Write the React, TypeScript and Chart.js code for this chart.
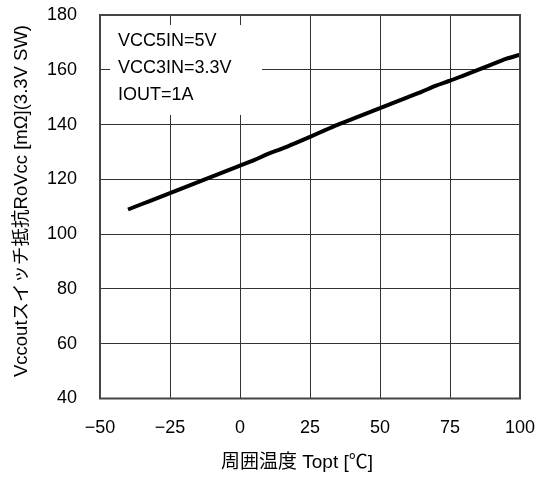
import React, { useEffect, useRef } from "react";
import { Chart, registerables } from "chart.js";

Chart.register(...registerables);

const temperatures = [-40, -35, -30, -25, -20, -15, -10, -5, 0, 5, 10, 15, 20, 25, 30, 35, 40, 45, 50, 55, 60, 65, 70, 75, 80, 85, 90, 95, 100];
const resistance = [109, 111, 113, 115, 117, 119, 121, 123, 125, 127, 129.3, 131.2, 133.3, 135.5, 137.8, 140, 142, 144, 146, 148, 150, 152, 154.2, 156, 158, 160, 162, 164, 165.5];
const conditionLines = ["VCC5IN=5V", "VCC3IN=3.3V", "IOUT=1A"];
const xTitle = "周囲温度 Topt [℃]";
const yTitle = "Vccoutスイッチ抵抗RoVcc [mΩ](3.3V SW)";

const FONT = "'Liberation Sans', 'Noto Sans CJK JP', sans-serif";

const boxPlugin = {
  id: "condBox",
  beforeDatasetsDraw(chart: any) {
    const { ctx, chartArea } = chart;
    const x0 = chartArea.left + 10;
    const y0 = chartArea.top + 10;
    ctx.save();
    ctx.fillStyle = "#ffffff";
    ctx.fillRect(x0, y0, 152, 90);
    ctx.fillStyle = "#000000";
    ctx.font = `18px ${FONT}`;
    ctx.textBaseline = "middle";
    ctx.textAlign = "left";
    conditionLines.forEach((t, i) => {
      ctx.fillText(t, chartArea.left + 18, chartArea.top + 26 + i * 27);
    });
    ctx.restore();
  },
  afterDraw(chart: any) {
    const { ctx, chartArea } = chart;
    ctx.save();
    ctx.strokeStyle = "#444444";
    ctx.lineWidth = 2;
    ctx.strokeRect(chartArea.left, chartArea.top, chartArea.right - chartArea.left, chartArea.bottom - chartArea.top);
    // axis titles
    ctx.fillStyle = "#000";
    ctx.textAlign = "center";
    ctx.textBaseline = "middle";
    ctx.font = `19px ${FONT}`;
    ctx.fillText(xTitle, chartArea.left + 197, chartArea.bottom + 64);
    ctx.translate(22, chartArea.top + 186);
    ctx.rotate(-Math.PI / 2);
    ctx.font = `18.5px ${FONT}`;
    ctx.fillText(yTitle, 0, 0);
    ctx.restore();
  },
};

export default function App() {
  const ref = useRef<HTMLCanvasElement>(null);
  useEffect(() => {
    document.body.style.margin = "0";
    const chart = new Chart(ref.current!, {
      type: "line",
      data: {
        datasets: [
          {
            data: temperatures.map((t, i) => ({ x: t, y: resistance[i] })),
            borderColor: "#000000",
            borderWidth: 4,
            pointRadius: 0,
            tension: 0.3,
            fill: false,
          },
        ],
      },
      options: {
        animation: false,
        responsive: false,
        layout: { padding: { top: 15, right: 26, left: 0, bottom: 0 } },
        plugins: { legend: { display: false }, tooltip: { enabled: false } },
        scales: {
          x: {
            type: "linear",
            min: -50,
            max: 100,
            ticks: {
              stepSize: 25,
              color: "#000",
              font: { family: FONT, size: 18 },
              padding: 19,
              maxRotation: 0,
              callback: (v: any) => String(v).replace("-", "\u2212"),
            },
            grid: { color: "#333", lineWidth: 1, drawTicks: false },
            border: { display: false },
            title: { display: false, text: xTitle },
            afterFit: (s: any) => { s.height = 78.5; s.paddingLeft = 0; s.paddingRight = 0; },
          },
          y: {
            min: 40,
            max: 180,
            ticks: {
              stepSize: 20,
              color: "#000",
              font: { family: FONT, size: 18 },
              padding: 23,
            },
            grid: { color: "#333", lineWidth: 1, drawTicks: false },
            border: { display: false },
            title: { display: false, text: yTitle },
            afterFit: (s: any) => { s.width = 100; s.paddingTop = 0; s.paddingBottom = 0; },
          },
        },
      },
      plugins: [boxPlugin],
    });
    return () => chart.destroy();
  }, []);
  return (
    <div style={{ width: 546, height: 477 }}>
      <canvas ref={ref} width={546} height={477} />
    </div>
  );
}
